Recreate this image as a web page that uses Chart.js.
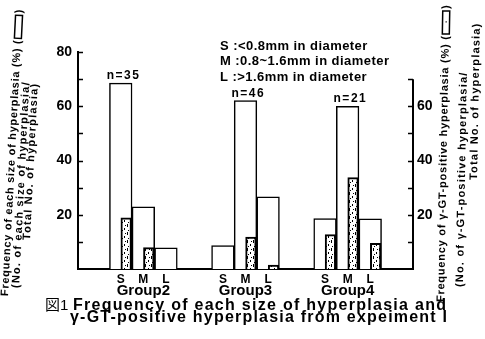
<!DOCTYPE html>
<html>
<head>
<meta charset="utf-8">
<script src="https://cdn.jsdelivr.net/npm/chart.js@4.4.1/dist/chart.umd.min.js"></script>
<style>
html,body{margin:0;padding:0;background:#fff;}
#c{display:block;}
</style>
</head>
<body>
<canvas id="c" width="485" height="339"></canvas>
<script>
// ---------------- data ----------------
const groups = ['Group2', 'Group3', 'Group4'];
const sizes = ['S', 'M', 'L'];
const groupN = [35, 46, 21];
// Frequency of each size of hyperplasia (%) — white bars
const freqS = [68.5, 8.6, 18.6];
const freqM = [22.9, 62.1, 60.0];
const freqL = [7.8, 26.6, 18.5];
// Frequency of γ-GT-positive hyperplasia (%) — stippled bars
const gtpS = [18.9, null, 12.7];
const gtpM = [7.9, 11.8, 33.7];
const gtpL = [null, 1.4, 9.5];
// axis ticks
const leftTickLabels = [20, 40, 60, 80];
const rightTickLabels = [20, 40, 60];
const leftAxisMax = 80;
const rightAxisMax = 70;
const sizeLegend = ['S :<0.8mm in diameter', 'M :0.8~1.6mm in diameter', 'L :>1.6mm in diameter'];
const leftTitle = ['Frequency of each size of hyperplasia (%) (', '(No. of each size of hyperplasia/', 'Total No. of hyperplasia)'];
const rightTitle = ['Frequency of γ-GT-positive hyperplasia (%) (', '(No. of γ-GT-positive hyperplasia/', 'Total No. of hyperplasia)'];
const captionFig = '図1';
const caption = ['Frequency of each size of hyperplasia and', 'γ-GT-positive hyperplasia from expeiment I'];

// ---------------- layout / styles ----------------
const FAM = "'Liberation Sans', Arial, Helvetica, 'Noto Sans CJK JP', sans-serif";
const xMin = -0.64, xMax = 2.64;   // group axis range (group i sits at value i)
const sizeStep = 0.2214;           // S/M/L bars side by side inside a group
const gtpShift = 0.053;            // stippled bars sit in the right half of each white bar
const whiteBarPx = 22.6, gtpBarPx = 10.6;

function makeStipple() {
  const pc = document.createElement('canvas');
  pc.width = 6; pc.height = 8;
  const p = pc.getContext('2d');
  p.fillStyle = '#fff'; p.fillRect(0, 0, 6, 8);
  p.fillStyle = '#000';
  p.fillRect(1, 0, 1, 3);
  p.fillRect(4, 4, 1, 2);
  p.fillRect(2, 6, 1, 1);
  p.fillRect(5, 1, 1, 1);
  return document.getElementById('c').getContext('2d').createPattern(pc, 'repeat');
}
const stipple = makeStipple();

function txt(ctx, s, x, y, o) {
  ctx.save();
  ctx.font = o.font;
  ctx.letterSpacing = '0px';
  const w = ctx.measureText(s).width;
  let ls = o.ls || 0;
  if (o.fit) ls = (o.fit - w) / Math.max(1, s.length - 1);
  const tw = w + ls * (s.length - 1);
  ctx.letterSpacing = ls + 'px';
  ctx.translate(x, y);
  if (o.angle) ctx.rotate(o.angle);
  ctx.textAlign = 'left';
  ctx.textBaseline = o.baseline || 'alphabetic';
  let sx = 0;
  if (o.align === 'center') sx = -tw / 2;
  else if (o.align === 'right') sx = -tw;
  ctx.fillStyle = '#000';
  ctx.fillText(s, sx, 0);
  ctx.restore();
  return tw;
}

function sideTitle(ctx, lines, starts, angle, font, ls, fit0, boxDots) {
  const a = -Math.PI / 2 + angle;
  lines.forEach((s, i) => {
    const [x0, y0] = starts[i];
    const tw = txt(ctx, s, x0, y0, {font, ls, angle: a, baseline: 'middle', fit: i === 0 ? fit0 : 0});
    if (i === 0) {
      ctx.save();
      ctx.translate(x0, y0);
      ctx.rotate(a);
      ctx.lineWidth = 1.5;
      ctx.strokeStyle = '#000';
      const bx = tw + 2, bl = 23, bh = 7;
      ctx.fillStyle = '#fff';
      ctx.fillRect(bx, -bh / 2, bl, bh);
      ctx.strokeRect(bx, -bh / 2, bl, bh);
      if (boxDots) { ctx.fillStyle = '#000'; ctx.fillRect(bx + bl / 2, -0.5, 1.2, 1.2); }
      ctx.restore();
      txt(ctx, ')', x0 + Math.cos(a) * (bx + bl + 2), y0 + Math.sin(a) * (bx + bl + 2), {font, angle: a, baseline: 'middle'});
    }
  });
}

const decor = {
  id: 'decor',
  afterDraw(chart) {
    const {ctx, chartArea: A, scales} = chart;
    const y = scales.y, y1 = scales.y1;
    ctx.save();
    ctx.strokeStyle = '#000';
    // inward ticks, left axis
    ctx.lineWidth = 1.5;
    ctx.beginPath();
    y.ticks.forEach(t => {
      if (t.value <= 0) return;
      const py = Math.round(y.getPixelForValue(t.value)) + 0.5;
      ctx.moveTo(A.left, py); ctx.lineTo(A.left + 5, py);
    });
    ctx.stroke();
    // right axis line (0..70) and inward ticks
    ctx.lineWidth = 2;
    ctx.beginPath();
    ctx.moveTo(A.right, y1.getPixelForValue(0) + 1);
    ctx.lineTo(A.right, y1.getPixelForValue(rightAxisMax));
    ctx.stroke();
    ctx.lineWidth = 1.5;
    ctx.beginPath();
    y1.ticks.forEach(t => {
      if (t.value <= 0 || t.value > rightAxisMax) return;
      const py = Math.round(y1.getPixelForValue(t.value)) + 0.5;
      ctx.moveTo(A.right, py); ctx.lineTo(A.right - 5, py);
    });
    ctx.stroke();
    ctx.restore();

    // size labels under each white bar, and n= labels over the tallest bar of each group
    const whiteMetas = [0, 1, 2].map(k => chart.getDatasetMeta(k));
    const freqs = [freqS, freqM, freqL];
    groups.forEach((g, i) => {
      let best = 0;
      sizes.forEach((s, k) => {
        const bar = whiteMetas[k].data[i];
        txt(ctx, s, bar.x, A.bottom + 14, {font: 'bold 12px ' + FAM, align: 'center'});
        if (freqs[k][i] > freqs[best][i]) best = k;
      });
      const top = whiteMetas[best].data[i];
      txt(ctx, 'n=' + groupN[i], top.x + 2, top.y - 4, {font: 'bold 12px ' + FAM, ls: 1.5, align: 'center'});
    });

    // size legend
    sizeLegend.forEach((s, i) => {
      txt(ctx, s, 220, 50 + i * 15.3, {font: 'bold 13px ' + FAM, ls: 0.45});
    });

    // side titles
    const tiltL = 0.05, tiltR = 0.018;
    sideTitle(ctx, leftTitle, [[5, 296], [16, 288], [27, 240]], tiltL, 'bold 11px ' + FAM, 1.2, 256, false);
    sideTitle(ctx, rightTitle, [[441, 302], [460, 287], [474, 180]], tiltR, 'bold 11px ' + FAM, 1.2, 266, true);

    // caption
    txt(ctx, captionFig, 45, 310, {font: '15px ' + FAM});
    txt(ctx, caption[0], 73, 310, {font: 'bold 16px ' + FAM, fit: 373});
    txt(ctx, caption[1], 70, 322, {font: 'bold 16px ' + FAM, fit: 377});
  }
};

// each bar at its group index, S/M/L placed side by side around the group centre
const place = (arr, k, shift) => arr.map((v, i) => ({x: i + (k - 1) * sizeStep + shift, y: v}));
const whiteSets = [freqS, freqM, freqL].map((d, k) => ({
  label: 'Frequency ' + sizes[k], data: place(d, k, 0), xAxisID: 'x', yAxisID: 'y',
  grouped: false, barThickness: whiteBarPx,
  backgroundColor: '#fff', borderColor: '#000', borderWidth: 1.5, order: 1
}));
const darkSets = [gtpS, gtpM, gtpL].map((d, k) => ({
  label: 'γ-GT-positive ' + sizes[k], data: place(d, k, gtpShift), xAxisID: 'x', yAxisID: 'y1',
  grouped: false, barThickness: gtpBarPx,
  backgroundColor: stipple, borderColor: '#000', borderWidth: 2, order: 0
}));

const tickFont = {family: FAM, size: 14, weight: 'bold'};
new Chart(document.getElementById('c'), {
  type: 'bar',
  data: {datasets: [...whiteSets, ...darkSets]},
  options: {
    responsive: false,
    animation: false,
    devicePixelRatio: 1,
    layout: {padding: {top: 52, left: 0, right: 0, bottom: 0}},
    plugins: {legend: {display: false}, tooltip: {enabled: false}},
    scales: {
      x: {
        type: 'linear', position: 'bottom', min: xMin, max: xMax, bounds: 'data', offset: false,
        grid: {display: false, drawTicks: false, offset: false},
        border: {display: true, color: '#000', width: 2},
        afterBuildTicks: s => { s.ticks = groups.map((g, i) => ({value: i})); },
        ticks: {autoSkip: false, maxRotation: 0, padding: 13, color: '#000',
          font: {family: FAM, size: 15, weight: 'bold'},
          callback: v => groups[v] !== undefined ? groups[v] : ''},
        afterFit: s => { s.height = 70; }
      },
      y: {
        position: 'left', min: 0, max: leftAxisMax,
        grid: {display: false, drawTicks: false},
        border: {display: true, color: '#000', width: 2},
        ticks: {stepSize: 10, padding: 6, color: '#000', font: tickFont,
          callback: v => leftTickLabels.includes(v) ? String(v) : ''},
        afterFit: s => { s.width = 78; }
      },
      y1: {
        position: 'right', min: 0, max: leftAxisMax,
        grid: {display: false, drawTicks: false},
        border: {display: false},
        ticks: {stepSize: 10, padding: 4, color: '#000', font: tickFont,
          callback: v => rightTickLabels.includes(v) ? String(v) : ''},
        afterFit: s => { s.width = 72; }
      }
    }
  },
  plugins: [decor]
});
</script>
</body>
</html>
